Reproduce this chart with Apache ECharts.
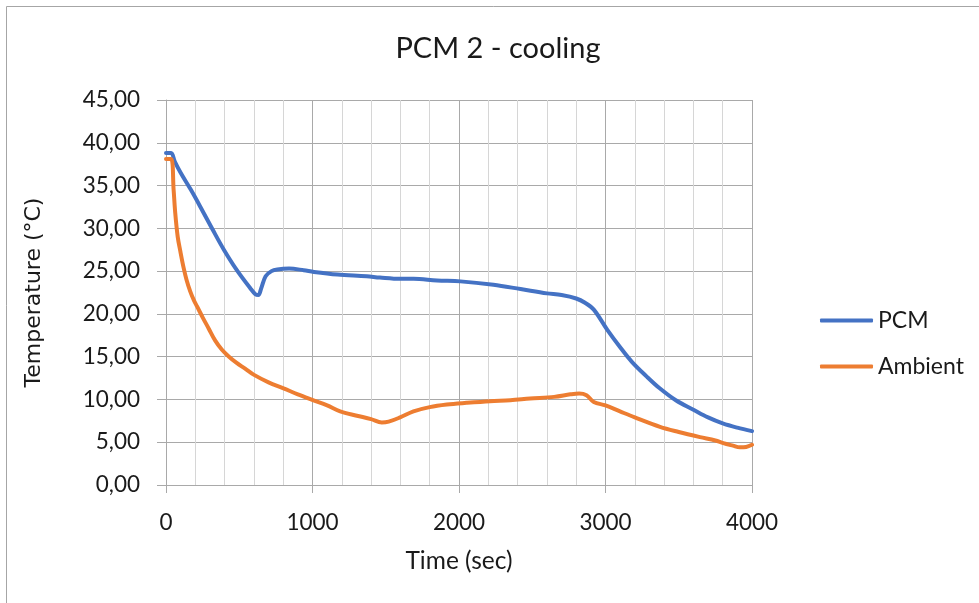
<!DOCTYPE html>
<html>
<head>
<meta charset="utf-8">
<script src="https://cdn.jsdelivr.net/npm/echarts@6/dist/echarts.min.js"></script>
<style>
  html, body { margin: 0; padding: 0; background: #fff; }
  #chart { width: 979px; height: 603px; }
</style>
</head>
<body>
<div id="chart"></div>
<script>
// PCM temperature during cooling (time in seconds, temperature in °C)
const pcmTime = [0, 35, 60, 100, 170, 235, 320, 395, 480, 575, 610, 630, 650, 680, 720, 760, 840, 940, 1010, 1170, 1370, 1460, 1600, 1690, 1850, 2010, 2235, 2420, 2600, 2700, 2800, 2860, 2920, 3010, 3100, 3180, 3280, 3370, 3480, 3600, 3700, 3800, 3900, 4000];
const pcmTemp = [38.8, 38.8, 37.8, 36.5, 34.5, 32.5, 29.8, 27.5, 25.2, 23.0, 22.3, 22.2, 23.0, 24.4, 25.0, 25.2, 25.3, 25.1, 24.9, 24.6, 24.4, 24.25, 24.1, 24.1, 23.9, 23.8, 23.4, 22.9, 22.4, 22.2, 21.8, 21.3, 20.5, 18.2, 16.1, 14.4, 12.7, 11.3, 9.9, 8.8, 7.9, 7.2, 6.7, 6.3];

// Ambient temperature over the same run
const ambTime = [0, 35, 52, 63, 80, 98, 120, 140, 166, 190, 211, 250, 291, 335, 382, 430, 480, 540, 598, 700, 802, 900, 1007, 1100, 1189, 1303, 1400, 1473, 1520, 1598, 1689, 1800, 1917, 2050, 2212, 2350, 2485, 2650, 2760, 2820, 2870, 2920, 3000, 3099, 3200, 3372, 3500, 3645, 3750, 3804, 3870, 3917, 3960, 4000];
const ambTemp = [38.1, 38.1, 34.5, 31.8, 29.0, 27.3, 25.4, 24.0, 22.6, 21.6, 20.9, 19.6, 18.3, 16.9, 15.8, 15.0, 14.3, 13.6, 12.9, 12.0, 11.3, 10.6, 9.9, 9.3, 8.6, 8.1, 7.7, 7.3, 7.4, 7.9, 8.6, 9.1, 9.4, 9.6, 9.8, 9.9, 10.1, 10.3, 10.6, 10.7, 10.5, 9.7, 9.3, 8.6, 7.9, 6.8, 6.2, 5.6, 5.2, 4.9, 4.6, 4.4, 4.45, 4.7];

const seriesNames = ['PCM', 'Ambient'];
const seriesColors = ['#4472C4', '#ED7D31'];
const chartTitle = 'PCM 2 - cooling';
const xTitle = 'Time (sec)';
const yTitle = 'Temperature (°C)';

const FONT = 'Lato';
const TEXT = '#1a1a1a';
const GRID_MAJOR = '#a9a9a9';
const GRID_MINOR = '#d6d6d6';

const zip = (xs, ys) => xs.map((x, i) => [x, ys[i]]);

const chart = echarts.init(document.getElementById('chart'), null, { renderer: 'canvas' });
chart.setOption({
  animation: false,
  backgroundColor: '#fff',
  textStyle: { fontFamily: FONT, color: TEXT },
  graphic: [{
    type: 'rect',
    shape: { x: 6.5, y: 6.5, width: 1000, height: 700 },
    style: { fill: 'none', stroke: '#a6a6a6', lineWidth: 1 },
    silent: true, z: -1
  }],
  title: {
    text: chartTitle,
    left: 493, top: 29, textAlign: 'center',
    textStyle: { fontFamily: FONT, fontSize: 29, fontWeight: 'normal', color: TEXT }
  },
  legend: {
    orient: 'vertical',
    left: 815, top: 303,
    itemWidth: 53, itemHeight: 4, itemGap: 21,
    icon: 'roundRect',
    textStyle: { fontFamily: FONT, fontSize: 23, color: TEXT, lineHeight: 25 },
    data: seriesNames
  },
  grid: { left: 166, right: 227, top: 100, bottom: 118 },
  xAxis: {
    type: 'value', min: 0, max: 4000, interval: 1000,
    name: xTitle, nameLocation: 'middle', nameGap: 64,
    nameTextStyle: { fontFamily: FONT, fontSize: 24.5, color: TEXT },
    axisLine: { show: true, lineStyle: { color: GRID_MAJOR, width: 1 } },
    axisTick: { show: true, length: 8, lineStyle: { color: GRID_MAJOR } },
    axisLabel: { margin: 26, fontFamily: FONT, fontSize: 22.5, color: TEXT, formatter: v => String(v) },
    splitLine: { show: true, lineStyle: { color: GRID_MAJOR, width: 1 } },
    minorTick: { show: false, splitNumber: 5 },
    minorSplitLine: { show: true, lineStyle: { color: GRID_MINOR, width: 1 } }
  },
  yAxis: {
    type: 'value', min: 0, max: 45, interval: 5,
    name: yTitle, nameLocation: 'middle', nameGap: 121, nameRotate: 90,
    nameTextStyle: { fontFamily: 'DejaVu Sans', fontSize: 22, color: TEXT },
    axisLine: { show: true, lineStyle: { color: GRID_MAJOR, width: 1 } },
    axisTick: { show: true, length: 9, lineStyle: { color: GRID_MAJOR } },
    axisLabel: {
      margin: 26, fontFamily: FONT, fontSize: 22.5, color: TEXT,
      formatter: v => v.toFixed(2).replace('.', ',')
    },
    splitLine: { show: true, lineStyle: { color: GRID_MAJOR, width: 1 } }
  },
  series: [
    {
      name: seriesNames[0], type: 'line', data: zip(pcmTime, pcmTemp),
      showSymbol: false, symbol: 'none', smooth: 0.35,
      lineStyle: { color: seriesColors[0], width: 4, cap: 'round', join: 'round' },
      itemStyle: { color: seriesColors[0] }
    },
    {
      name: seriesNames[1], type: 'line', data: zip(ambTime, ambTemp),
      showSymbol: false, symbol: 'none', smooth: 0.35,
      lineStyle: { color: seriesColors[1], width: 4, cap: 'round', join: 'round' },
      itemStyle: { color: seriesColors[1] }
    }
  ]
});
</script>
</body>
</html>
